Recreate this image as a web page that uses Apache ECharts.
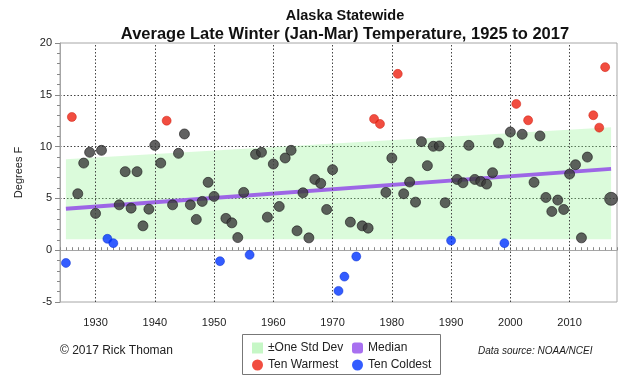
<!DOCTYPE html>
<html>
<head>
<meta charset="utf-8">
<script src="https://cdn.jsdelivr.net/npm/echarts@6/dist/echarts.min.js"></script>
<style>html,body{margin:0;padding:0;background:#fff;}#c{width:640px;height:384px;}</style>
</head>
<body>
<div id="c"></div>
<script>
// Data
var firstYear = 1925;
var temps = [
  -1.23, 12.86, 5.45, 8.41, 9.45, 3.55, 9.64, 1.10, 0.68, 4.38,   // 1925-1934
  7.58, 4.06, 7.58, 2.35, 3.96, 10.12, 8.41, 12.50, 4.38, 9.35,   // 1935-1944
  11.22, 4.38, 2.97, 4.71, 6.55, 5.19, -1.06, 3.07, 2.64, 1.22,   // 1945-1954
  5.58, -0.45, 9.25, 9.45, 3.19, 8.32, 4.22, 8.90, 9.64, 1.87,    // 1955-1964
  5.54, 1.19, 6.83, 6.45, 3.93, 7.77, -3.93, -2.55, 2.71, -0.61,  // 1965-1974
  2.35, 2.13, 12.67, 12.19, 5.58, 8.90, 17.02, 5.45, 6.58, 4.64,  // 1975-1984
  10.48, 8.16, 10.03, 10.06, 4.58, 0.93, 6.83, 6.51, 10.12, 6.83, // 1985-1994
  6.64, 6.38, 7.48, 10.35, 0.68, 11.41, 14.12, 11.19, 12.54, 6.55,// 1995-2004
  11.03, 5.09, 3.74, 4.84, 3.93, 7.35, 8.25, 1.19, 8.99, 13.03,   // 2005-2014
  11.83, 17.67, 4.96                                              // 2015-2017
];
var warmYears = [1926, 1942, 1977, 1978, 1981, 2001, 2003, 2014, 2015, 2016];
var coldYears = [1925, 1932, 1933, 1951, 1956, 1971, 1972, 1974, 1990, 1999];
var latestYear = 2017;
var bandYears = [1925, 2017];
var bandLow = [1.06, 1.06];
var bandHigh = [8.77, 11.87];
var medianVals = [4.0, 7.85];
var decadeTicks = [1930, 1940, 1950, 1960, 1970, 1980, 1990, 2000, 2010];

var normal = [], warm = [], cold = [], latest = [];
temps.forEach(function (v, i) {
  var y = firstYear + i;
  if (warmYears.indexOf(y) >= 0) warm.push([y, v]);
  else if (coldYears.indexOf(y) >= 0) cold.push([y, v]);
  else if (y === latestYear) latest.push([y, v]);
  else normal.push([y, v]);
});
var medData = bandYears.map(function (y, i) { return [y, medianVals[i]]; });

var FONT = 'Liberation Sans';
var chart = echarts.init(document.getElementById('c'), null, {renderer: 'canvas'});
chart.setOption({
  animation: false,
  backgroundColor: '#fff',
  title: [
    {
      text: 'Alaska Statewide', left: 340, textAlign: 'center', top: 3,
      textStyle: {fontFamily: FONT, fontSize: 14.5, fontWeight: 'bold', color: '#111'}
    },
    {
      text: 'Average Late Winter (Jan-Mar) Temperature, 1925 to 2017', left: 340, textAlign: 'center', top: 21,
      textStyle: {fontFamily: FONT, fontSize: 16.5, fontWeight: 'bold', color: '#111'}
    }
  ],
  grid: {left: 60, right: 23, top: 43, bottom: 82, show: true, borderColor: '#a6a6a6', borderWidth: 1},
  xAxis: {
    type: 'value', min: 1924, max: 2018, interval: 1,
    axisLine: {show: true, lineStyle: {color: '#a6a6a6'}},
    axisTick: {show: true, inside: true, length: 3, lineStyle: {color: '#888'}},
    axisLabel: {
      fontFamily: FONT, fontSize: 11, color: '#222', margin: 15,
      formatter: function (v) { return v % 10 === 0 ? String(v) : ''; }
    },
    splitLine: {show: false}
  },
  yAxis: {
    type: 'value', min: -5, max: 20, interval: 5,
    name: 'Degrees F', nameLocation: 'middle', nameGap: 36,
    nameTextStyle: {fontFamily: FONT, fontSize: 11, color: '#222'},
    axisLine: {show: true, lineStyle: {color: '#a6a6a6'}},
    axisTick: {show: true, length: 5, lineStyle: {color: '#888'}},
    minorTick: {show: true, splitNumber: 5, length: 3, lineStyle: {color: '#888'}},
    axisLabel: {fontFamily: FONT, fontSize: 11, color: '#222', margin: 8},
    splitLine: {show: true, showMinLine: false, showMaxLine: false, lineStyle: {color: '#444', type: [1.5, 2], width: 1}}
  },
  legend: [
    {
      orient: 'vertical', left: 247, top: 337, itemGap: 5, itemWidth: 11, itemHeight: 11,
      textStyle: {fontFamily: FONT, fontSize: 12, color: '#222'},
      data: [
        {name: '±One Std Dev', icon: 'rect', itemStyle: {color: '#c6f7c6', borderWidth: 0}},
        {name: 'Ten Warmest', icon: 'circle', itemStyle: {color: '#ee2010', borderWidth: 0}}
      ]
    },
    {
      orient: 'vertical', left: 347, top: 337, itemGap: 5, itemWidth: 11, itemHeight: 11,
      textStyle: {fontFamily: FONT, fontSize: 12, color: '#222'},
      data: [
        {name: 'Median', icon: 'roundRect', itemStyle: {color: '#a870f0', borderWidth: 0}},
        {name: 'Ten Coldest', icon: 'circle', itemStyle: {color: '#0033ff', borderWidth: 0}}
      ]
    }
  ],
  graphic: [
    {type: 'rect', left: 240, top: 332, shape: {width: 198, height: 40}, style: {fill: 'none', stroke: '#777', lineWidth: 1}, z: 0},
    {type: 'text', left: 60, top: 345, style: {text: '© 2017 Rick Thoman', fontFamily: FONT, fontSize: 12, fill: '#222'}},
    {type: 'text', left: 478, top: 346, style: {text: 'Data source: NOAA/NCEI', fontFamily: FONT, fontSize: 10, fontStyle: 'italic', fill: '#222'}}
  ],
  series: [
    {
      name: 'grid-x', type: 'line', data: [], silent: true, z: 1,
      markLine: {
        silent: true, symbol: 'none', label: {show: false},
        lineStyle: {color: '#444', type: [1.5, 2], width: 1},
        data: decadeTicks.map(function (t) { return {xAxis: t}; })
      }
    },
    {
      name: '±One Std Dev', type: 'custom', silent: true, z: 2,
      data: [[bandYears[0], bandLow[0]]],
      renderItem: function (params, api) {
        var pts = [];
        for (var i = 0; i < bandYears.length; i++) pts.push(api.coord([bandYears[i], bandHigh[i]]));
        for (var j = bandYears.length - 1; j >= 0; j--) pts.push(api.coord([bandYears[j], bandLow[j]]));
        return {type: 'polygon', shape: {points: pts}, style: {fill: 'rgba(135,242,135,0.3)'}};
      },
      itemStyle: {color: '#c6f7c6'}
    },
    {
      name: 'Median', type: 'line', data: medData, symbol: 'none',
      lineStyle: {color: '#9d66e6', width: 4}, z: 3
    },
    {
      name: 'Normal', type: 'scatter', data: normal, symbolSize: 10,
      itemStyle: {color: '#3a3a3a', borderColor: '#1c1c1c', borderWidth: 0.8}, z: 4
    },
    {
      name: 'Ten Warmest', type: 'scatter', data: warm, symbolSize: 9,
      itemStyle: {color: '#ee2010', borderColor: '#cc1808', borderWidth: 0.6}, z: 5
    },
    {
      name: 'Ten Coldest', type: 'scatter', data: cold, symbolSize: 9,
      itemStyle: {color: '#0033ff', borderColor: '#0028cc', borderWidth: 0.6}, z: 5
    },
    {
      name: 'Latest', type: 'scatter', data: latest, symbolSize: 13,
      itemStyle: {color: '#3a3a3a', borderColor: '#1c1c1c', borderWidth: 0.8}, z: 5
    }
  ]
});
</script>
</body>
</html>
